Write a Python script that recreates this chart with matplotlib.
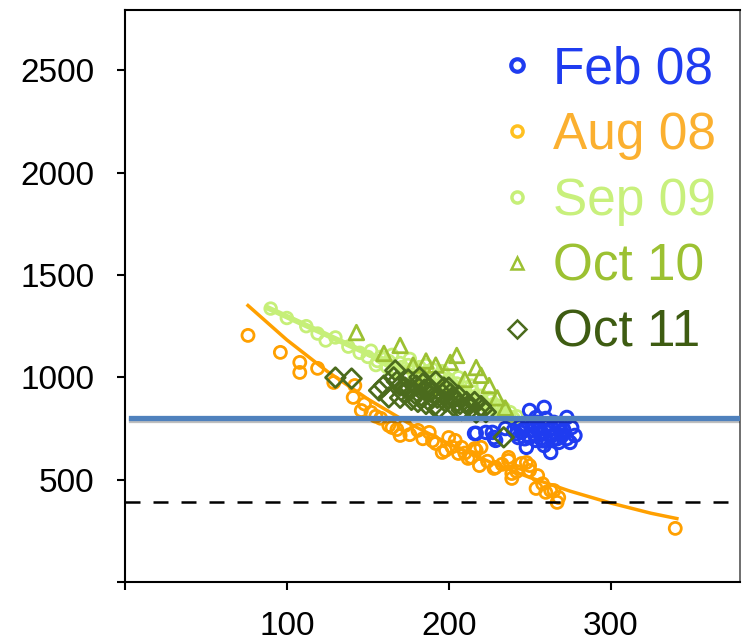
import matplotlib
matplotlib.use("Agg")
import matplotlib.pyplot as plt
from matplotlib.lines import Line2D
import matplotlib.patheffects as pe

plt.rcParams['font.family'] = ['Liberation Sans', 'DejaVu Sans']

# ---- data ----
feb_x = [216, 217, 223, 227, 228, 229, 235, 243, 245, 248, 250, 250, 252, 254, 254, 256, 258,
         259, 259, 260, 262, 263, 264, 266, 268, 268, 270, 273, 273, 275, 276, 278,
         240, 244, 247, 249, 251, 253, 255, 257, 261, 263, 265, 267, 269, 271, 246, 252, 258, 264, 270, 242]
feb_y = [726, 726, 731, 731, 706, 692, 750, 706, 731, 658, 838, 706, 775, 692, 804, 755, 726,
         853, 667, 799, 741, 633, 692, 726, 755, 682, 731, 804, 701, 682, 755, 716,
         740, 760, 700, 780, 740, 720, 780, 700, 760, 710, 780, 700, 770, 745, 745, 760, 690, 750, 715, 725]

aug_x = [76, 96, 108, 108, 119, 129, 141, 142, 146, 152, 158, 163, 165, 170, 173, 181, 188, 192,
         196, 198, 200, 204, 206, 208, 212, 214, 216, 217, 219, 220, 228, 229, 237, 237, 239, 239,
         245, 248, 250, 250, 254, 255, 260, 263, 265, 268, 267, 340,
         148, 155, 168, 176, 184, 190, 202, 210, 224, 233, 242, 258]
aug_y = [1205, 1122, 1073, 1024, 1044, 975, 902, 960, 838, 829, 800, 765, 755, 716, 765, 741, 731, 677,
         633, 643, 706, 692, 628, 658, 604, 609, 652, 643, 569, 658, 555, 560, 609, 594, 530, 506,
         579, 584, 545, 569, 457, 520, 438, 447, 447, 413, 389, 262,
         870, 810, 745, 720, 700, 690, 660, 630, 590, 575, 540, 480]
aug_fit_x = [76, 100, 125, 150, 175, 200, 225, 250, 275, 300, 325, 341]
aug_fit_y = [1351, 1183, 1029, 894, 777, 676, 588, 511, 444, 386, 336, 310]

sep_x = [90, 100, 112, 119, 124, 130, 138, 145, 150, 152, 156, 160, 162, 165, 168, 170, 172, 175,
         178, 180, 182, 185, 188, 190, 192, 195, 198, 200, 202, 205, 208, 210, 212, 215, 218, 220,
         223, 226, 229, 232, 235, 238, 240, 186, 196, 206, 176, 214, 242,
         155, 158, 163, 167, 171, 174, 179, 183, 187, 191, 194, 199, 203, 207, 211, 216, 221, 225,
         228, 231, 234, 237, 189, 201, 213, 225, 184, 197]
sep_y = [1336, 1290, 1250, 1214, 1180, 1195, 1150, 1120, 1100, 1130, 1080, 1090, 1050, 1110, 1040,
         1070, 1010, 1060, 1030, 990, 1050, 1010, 980, 1040, 960, 1000, 940, 990, 930, 970, 910, 950,
         890, 930, 880, 910, 860, 890, 840, 860, 820, 830, 800, 1060, 1030, 1000, 1090, 960, 810,
         1060, 1100, 1080, 1030, 1050, 1020, 1040, 1000, 1030, 990, 1010, 970, 960, 940, 920, 900, 880, 860,
         870, 840, 850, 810, 960, 940, 900, 900, 970, 1010]
sep_fit_x = [88, 164, 240]
sep_fit_y = [1340, 1065, 790]

oct10_x = [143, 160, 170, 201, 205, 217, 185, 192, 178, 210, 225, 230, 196, 186, 220, 235]
oct10_y = [1219, 1117, 1156, 1073, 1107, 1048, 1000, 1060, 1060, 990, 960, 900, 950, 1080, 1010, 850]

oct11_x = [130, 140, 157, 160, 163, 166, 167, 170, 172, 175, 177, 180, 182, 183, 186, 188, 190, 192,
           194, 196, 198, 200, 203, 206, 208, 211, 214, 217, 220, 223, 234, 185, 175, 205,
           168, 173, 179, 184, 189, 193, 197, 202, 207, 212, 216, 221, 170, 181, 191, 201]
oct11_y = [999, 994, 936, 960, 902, 1000, 1034, 960, 925, 990, 890, 960, 1000, 910, 870, 950, 900, 980,
           850, 920, 880, 950, 860, 910, 840, 880, 850, 828, 860, 830, 707, 940, 940, 880,
           980, 950, 920, 970, 930, 900, 950, 900, 870, 860, 880, 845, 900, 880, 860, 920]

hline_solid = 800
hline_dashed = 390

labels = ['Feb 08', 'Aug 08', 'Sep 09', 'Oct 10', 'Oct 11']
c_feb = '#1f3cf0'
c_aug = '#ffa000'
c_sep = '#c6ef78'
c_o10 = '#9cc132'
c_o11 = '#4b6b1d'
text_colors = ['#1f3cf0', '#fbb030', '#c8f07c', '#9cc132', '#3e5c12']

fig = plt.figure(figsize=(7.43, 6.43), dpi=100)
ax = fig.add_axes([125/743, 1-582/643, (740-125)/743, (582-10)/643])

ax.plot(sep_fit_x, sep_fit_y, color=c_sep, lw=4, zorder=1)
ax.scatter(sep_x, sep_y, s=70, facecolors='none', edgecolors=c_sep, linewidths=2, zorder=2)
ax.scatter(oct10_x, oct10_y, s=110, marker='^', facecolors='none', edgecolors=c_o10, linewidths=2, zorder=3)
ax.scatter(aug_x, aug_y, s=75, facecolors='none', edgecolors=c_aug, linewidths=2, zorder=4)
ax.plot(aug_fit_x, aug_fit_y, color=c_aug, lw=2.5, zorder=4)
ax.scatter(feb_x, feb_y, s=80, facecolors='none', edgecolors=c_feb, linewidths=2.2, zorder=5)
ax.scatter(oct11_x, oct11_y, s=100, marker='D', facecolors='none', edgecolors=c_o11, linewidths=2, zorder=6)

ax.axhline(hline_solid, xmin=0.01, color='#4f81bd', lw=3.8, zorder=8,
           path_effects=[pe.SimpleLineShadow(offset=(0, -1.5), alpha=0.25), pe.Normal()])
ax.axhline(hline_dashed, color='black', lw=1.8, dashes=(6, 5.2), zorder=7)

ax.set_xlim(0, 380)
ax.set_ylim(0, 2795)
ax.set_xticks([0, 100, 200, 300])
ax.set_xticklabels(['', '100', '200', '300'])
ax.set_yticks([0, 500, 1000, 1500, 2000, 2500])
ax.set_yticklabels(['', '500', '1000', '1500', '2000', '2500'])
ax.tick_params(axis='both', direction='out', length=6, width=1.5, labelsize=24, colors='black')
ax.tick_params(axis='y', pad=16)
ax.tick_params(axis='x', pad=15)
for s in ['left', 'bottom', 'top']:
    ax.spines[s].set_linewidth(1.5)
    ax.spines[s].set_color('black')
ax.spines['right'].set_linewidth(1.2)
ax.spines['right'].set_color('#555555')

handles = [
    Line2D([], [], ls='none', marker='o', ms=9, mfc='none', mec=c_feb, mew=3),
    Line2D([], [], ls='none', marker='o', ms=8, mfc='none', mec='#ffc020', mew=2.5),
    Line2D([], [], ls='none', marker='o', ms=8, mfc='none', mec=c_sep, mew=2.5),
    Line2D([], [], ls='none', marker='^', ms=9, mfc='none', mec=c_o10, mew=1.8),
    Line2D([], [], ls='none', marker='D', ms=9, mfc='none', mec=c_o11, mew=1.8),
]
leg = ax.legend(handles, labels, loc='upper right',
                bbox_to_anchor=((716-125)/615, (582-45)/572),
                frameon=False, fontsize=37, labelspacing=0.33, handlelength=0.8,
                handletextpad=0.3, borderpad=0, borderaxespad=0, labelcolor=text_colors)

fig.savefig('out.png', dpi=100)
